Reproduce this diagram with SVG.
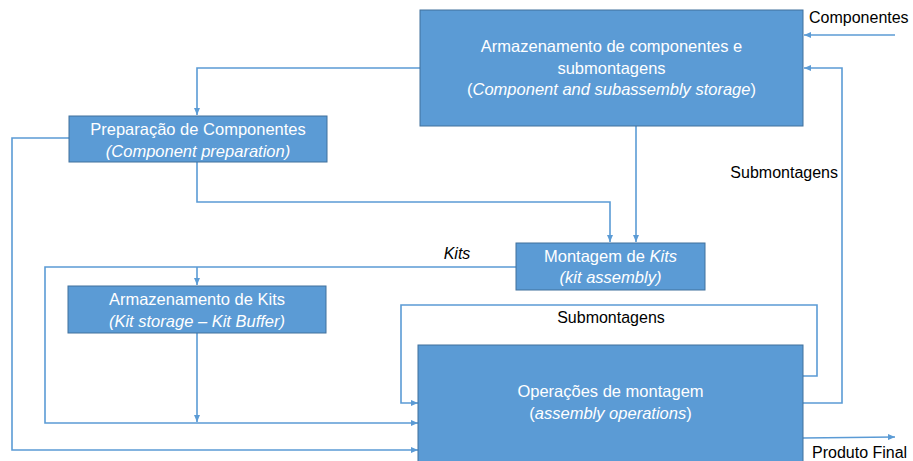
<svg xmlns="http://www.w3.org/2000/svg" width="913" height="461" viewBox="0 0 913 461">
  <style>
    .box { fill: #5B9BD5; stroke: #41719C; stroke-width: 1; }
    .lbl { font-family: "Liberation Sans", Arial, sans-serif; font-size: 16.5px; fill: #ffffff; text-anchor: middle; }
    .note { font-family: "Liberation Sans", Arial, sans-serif; font-size: 16px; fill: #000000; }
    .it { font-style: italic; }
    .conn { fill: none; stroke: #5B9BD5; stroke-width: 1.6; marker-end: url(#arrow); }
  </style>
  <defs>
    <marker id="arrow" markerUnits="userSpaceOnUse" markerWidth="7" markerHeight="6" refX="7" refY="3" orient="auto">
      <path d="M0,0 L7,3 L0,6 z" fill="#5B9BD5"/>
    </marker>
  </defs>
  <rect width="913" height="461" fill="#ffffff"/>

  <!-- connectors -->
  <g id="connectors">
    <path class="conn" d="M895,35 L804,35"/>
    <path class="conn" d="M803,403 L842,403 L842,68 L804,68"/>
    <path class="conn" d="M803,376 L817,376 L817,305 L401,305 L401,403 L418,403"/>
    <path class="conn" d="M420,68 L197,68 L197,115"/>
    <path class="conn" d="M636,126 L636,242"/>
    <path class="conn" d="M197,162 L197,202 L610,202 L610,242"/>
    <path class="conn" d="M69,138 L12,138 L12,450 L418,450"/>
    <path class="conn" d="M516,267 L45,267 L45,423 L418,423"/>
    <path class="conn" d="M197,267 L197,285"/>
    <path class="conn" d="M197,333 L197,422"/>
    <path class="conn" d="M803,438 L895,437"/>
  </g>

  <!-- connector labels -->
  <g id="labels">
    <text class="note" x="809" y="23">Componentes</text>
    <text class="note" x="838" y="178" text-anchor="end">Submontagens</text>
    <text class="note" x="611" y="323" text-anchor="middle">Submontagens</text>
    <text class="note it" x="457" y="259" text-anchor="middle">Kits</text>
    <text class="note" x="812" y="458">Produto Final</text>
  </g>

  <g id="component-storage">
    <rect class="box" x="420" y="10" width="383" height="116"/>
    <text class="lbl" x="611.5" y="52">Armazenamento de componentes e</text>
    <text class="lbl" x="611.5" y="73.5">submontagens</text>
    <text class="lbl" x="611.5" y="95">(<tspan class="it">Component and subassembly storage</tspan>)</text>
  </g>

  <g id="component-preparation">
    <rect class="box" x="69" y="116" width="258" height="46"/>
    <text class="lbl" x="198" y="135">Preparação de Componentes</text>
    <text class="lbl it" x="198" y="157">(Component preparation)</text>
  </g>

  <g id="kit-assembly">
    <rect class="box" x="516" y="243" width="189" height="47"/>
    <text class="lbl" x="610.5" y="262">Montagem de <tspan class="it">Kits</tspan></text>
    <text class="lbl it" x="610.5" y="283">(kit assembly)</text>
  </g>

  <g id="kit-storage">
    <rect class="box" x="68" y="286" width="258" height="47"/>
    <text class="lbl" x="197" y="305">Armazenamento de Kits</text>
    <text class="lbl it" x="197" y="327">(Kit storage – Kit Buffer)</text>
  </g>

  <g id="assembly-operations">
    <rect class="box" x="418" y="345" width="385" height="120"/>
    <text class="lbl" x="610.5" y="397">Operações de montagem</text>
    <text class="lbl" x="610.5" y="419">(<tspan class="it">assembly operations</tspan>)</text>
  </g>
</svg>
